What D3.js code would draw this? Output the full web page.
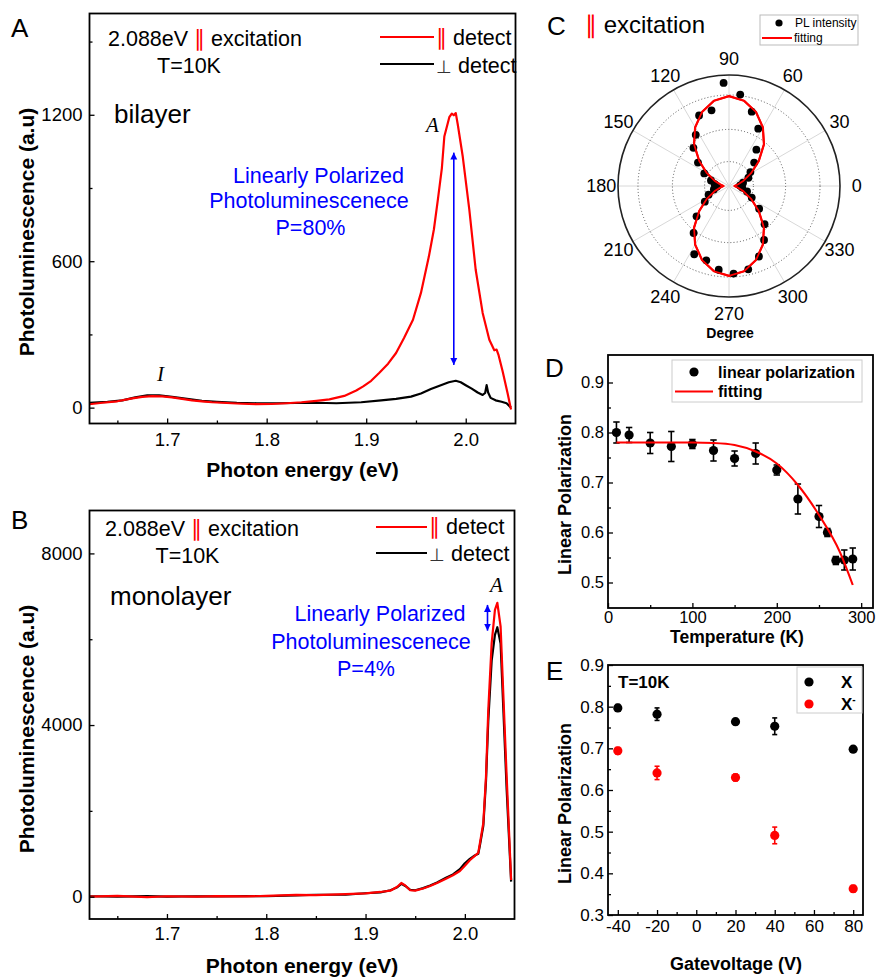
<!DOCTYPE html>
<html>
<head>
<meta charset="utf-8">
<script src="https://cdn.jsdelivr.net/npm/d3@7"></script>
<style>
  body { margin: 0; background: #fff; }
  svg { display: block; }
</style>
</head>
<body>
<svg id="fig" width="879" height="977"></svg>
<script>
// ---------- Bilayer PL spectra (panel A) ----------
const bilayerParEnergy = [1.622,1.635,1.650,1.665,1.675,1.685,1.695,1.705,1.715,1.725,1.735,1.745,1.760,1.775,1.790,1.805,1.820,1.835,1.850,1.863,1.878,1.890,1.897,1.905,1.913,1.922,1.930,1.938,1.947,1.955,1.963,1.968,1.972,1.976,1.9785,1.9835,1.986,1.988,1.990,1.992,1.997,2.0036,2.010,2.017,2.0237,2.0287,2.031,2.033,2.037,2.042,2.0455];
const bilayerParPL = [14,20,26,38,44,47,46,42,36,30,26,22,19,16,14,15,18,22,28,34,48,70,87,110,142,180,224,285,360,470,620,730,852,980,1111,1190,1205,1198,1207,1160,1029,811,565,388,278,235,238,215,150,60,-8];
const bilayerPerpEnergy = [1.622,1.640,1.655,1.668,1.680,1.692,1.705,1.720,1.735,1.750,1.770,1.790,1.810,1.830,1.850,1.870,1.895,1.915,1.930,1.945,1.955,1.965,1.975,1.983,1.990,1.995,2.000,2.006,2.012,2.017,2.0195,2.021,2.0225,2.025,2.030,2.036,2.041,2.0455];
const bilayerPerpPL = [20,24,30,42,50,50,44,36,28,24,20,18,18,19,20,18,22,30,36,45,58,76,92,104,110,104,92,78,62,52,60,92,62,40,30,24,18,0];

// ---------- Monolayer PL spectra (panel B) ----------
const monoEnergy = [1.622,1.650,1.680,1.700,1.730,1.750,1.780,1.800,1.830,1.850,1.880,1.900,1.915,1.925,1.932,1.936,1.940,1.945,1.950,1.958,1.965,1.972,1.981,1.988,1.995,2.000,2.005,2.010,2.0135,2.0152,2.0186,2.0213,2.0236,2.027,2.0303,2.0327,2.036,2.0387,2.0421,2.0466];
const monoParPL = [0,20,-10,10,0,15,5,20,40,35,60,75,110,140,230,320,260,150,140,190,250,320,420,500,600,720,850,950,1020,1250,1716,2802,4355,5909,6684,6850,6300,4744,2802,390];
const monoPerpPL = [10,0,15,0,10,5,15,10,30,45,50,80,100,150,220,300,250,160,150,200,260,330,440,520,640,780,880,960,1000,1200,1650,2700,4100,5500,6100,6280,5900,4400,2500,350];

// ---------- Polar PL intensity (panel C) ----------
const polarAngle = [3,13,23,33,43,53,63,73,83,93,103,113,123,133,143,153,163,173,183,193,203,213,223,233,243,253,263,273,283,293,303,313,323,333,343,353];
const polarPL = [0.10,0.13,0.19,0.23,0.31,0.41,0.58,0.70,0.83,0.93,0.70,0.69,0.55,0.47,0.35,0.25,0.17,0.13,0.11,0.14,0.20,0.26,0.40,0.53,0.69,0.70,0.76,0.79,0.77,0.69,0.58,0.47,0.34,0.23,0.17,0.12];
const fitAngle = [0,10,20,30,40,50,60,70,80,90,100,110,120,130,140,150,160,170,180,190,200,210,220,230,240,250,260,270,280,290,300,310,320,330,340,350];
const fitPL = [0.05,0.08,0.14,0.23,0.35,0.49,0.61,0.71,0.78,0.81,0.78,0.71,0.61,0.49,0.35,0.23,0.14,0.08,0.05,0.08,0.14,0.23,0.35,0.49,0.61,0.71,0.78,0.81,0.78,0.71,0.61,0.49,0.35,0.23,0.14,0.08];
const polarRings = [0.22, 0.51, 0.82];
const polarLabels = [0,30,60,90,120,150,180,210,240,270,300,330];

// ---------- Temperature dependence (panel D) ----------
const tempK = [10,25,50,75,100,125,150,175,200,225,250,260,270,280,290];
const tempLP = [0.800,0.795,0.779,0.772,0.777,0.764,0.748,0.758,0.725,0.667,0.632,0.600,0.544,0.545,0.547];
const tempErr = [0.021,0.015,0.021,0.030,0.009,0.021,0.015,0.021,0.010,0.030,0.022,0.008,0.008,0.020,0.022];
const fitK = [10,50,100,125,150,175,200,225,250,275,290];
const fitLP = [0.780,0.780,0.780,0.779,0.775,0.762,0.738,0.695,0.635,0.560,0.495];

// ---------- Gate voltage dependence (panel E) ----------
const gateV = [-40,-20,20,40,80];
const lpX = [0.797,0.782,0.764,0.753,0.698];
const errX = [0.008,0.015,0.007,0.020,0.006];
const lpXminus = [0.694,0.641,0.630,0.491,0.363];
const errXminus = [0.008,0.016,0.008,0.020,0.008];

// ---------- Tick values ----------
const energyTicks = [1.7,1.8,1.9,2.0];
const energyMinor = [1.65,1.75,1.85,1.95];
const bilayerTicks = [0,600,1200];
const bilayerMinor = [300,900,1500];
const monoTicks = [0,4000,8000];
const monoMinor = [2000,6000];
const tempTicks = [0,100,200,300];
const tempMinor = [50,150,250];
const lpTicksD = [0.5,0.6,0.7,0.8,0.9];
const lpMinorD = [0.55,0.65,0.75,0.85];
const gateTicks = [-40,-20,0,20,40,60,80];
const gateMinor = [-30,-10,10,30,50,70];
const lpTicksE = [0.3,0.4,0.5,0.6,0.7,0.8,0.9];
const lpMinorE = [0.35,0.45,0.55,0.65,0.75,0.85];

const SANS = '"Liberation Sans", Arial, Helvetica, sans-serif';
const SERIF = '"Liberation Serif", "Times New Roman", serif';
const RED = "#ff0000", BLUE = "#0000ff";
const plainInt = d => String(d);   // keeps an ASCII hyphen for negative ticks

const svg = d3.select("#fig");
const defs = svg.append("defs");
defs.append("marker")
  .attr("id", "blueHead").attr("viewBox", "0 0 10 10")
  .attr("refX", 10).attr("refY", 5)
  .attr("markerWidth", 7).attr("markerHeight", 8)
  .attr("markerUnits", "userSpaceOnUse")
  .attr("orient", "auto-start-reverse")
  .append("path").attr("d", "M0,0 L10,5 L0,10 z").attr("fill", BLUE);

function text(x, y, str, size, opts = {}) {
  return svg.append("text")
    .attr("x", x).attr("y", y)
    .attr("font-family", opts.family || SANS)
    .attr("font-size", size)
    .attr("font-weight", opts.weight || "normal")
    .attr("font-style", opts.style || "normal")
    .attr("text-anchor", opts.anchor || "start")
    .attr("fill", opts.fill || "#000")
    .text(str);
}

function rotText(x, y, str, size) {
  return svg.append("text")
    .attr("transform", `translate(${x},${y}) rotate(-90)`)
    .attr("font-family", SANS).attr("font-size", size).attr("font-weight", "bold")
    .attr("text-anchor", "middle").attr("fill", "#000").text(str);
}

// Framed axes with inward major/minor ticks
function axes(x, y, c) {
  const g = svg.append("g");
  const [x0, x1] = x.range();
  const [y1, y0] = y.range();
  const bot = g.append("g").attr("transform", `translate(0,${y1})`);
  bot.call(d3.axisBottom(x).tickValues(c.xTicks).tickFormat(c.xFmt)
    .tickSizeInner(-c.major).tickSizeOuter(0).tickPadding(c.xPad));
  bot.append("g").call(d3.axisBottom(x).tickValues(c.xMinor).tickFormat("")
    .tickSizeInner(-c.minor).tickSizeOuter(0));
  const left = g.append("g").attr("transform", `translate(${x0},0)`);
  left.call(d3.axisLeft(y).tickValues(c.yTicks).tickFormat(c.yFmt)
    .tickSizeInner(-c.major).tickSizeOuter(0).tickPadding(c.yPad));
  left.append("g").call(d3.axisLeft(y).tickValues(c.yMinor).tickFormat("")
    .tickSizeInner(-c.minor).tickSizeOuter(0));
  g.selectAll(".domain").remove();
  g.selectAll(".tick line").attr("stroke", "#000").attr("stroke-width", 1.3);
  g.selectAll(".tick text").attr("font-family", SANS).attr("font-size", c.fs).attr("fill", "#000");
  g.append("rect").attr("x", x0).attr("y", y0)
    .attr("width", x1 - x0).attr("height", y1 - y0)
    .attr("fill", "none").attr("stroke", "#000").attr("stroke-width", 1.8);
}

function clipFor(id, x, y) {
  defs.append("clipPath").attr("id", id).append("rect")
    .attr("x", x.range()[0]).attr("y", y.range()[1])
    .attr("width", x.range()[1] - x.range()[0])
    .attr("height", y.range()[0] - y.range()[1]);
  return `url(#${id})`;
}

function spectrum(x, y, xs, ys, color, clip) {
  const pts = xs.map((e, i) => [e, ys[i]]);
  svg.append("path")
    .attr("d", d3.line().x(d => x(d[0])).y(d => y(d[1]))(pts))
    .attr("fill", "none").attr("stroke", color).attr("stroke-width", 2.2)
    .attr("stroke-linejoin", "round").attr("clip-path", clip);
}

function legendPair(lx0, lx1, yRed, yBlack, tx, baseRed, baseBlack) {
  svg.append("line").attr("x1", lx0).attr("x2", lx1).attr("y1", yRed).attr("y2", yRed)
    .attr("stroke", RED).attr("stroke-width", 2);
  svg.append("line").attr("x1", lx0).attr("x2", lx1).attr("y1", yBlack).attr("y2", yBlack)
    .attr("stroke", "#000").attr("stroke-width", 2);
  const t1 = text(tx, baseRed, "", 21.5);
  t1.append("tspan").attr("fill", RED).text("\u2225");
  t1.append("tspan").text(" detect");
  const t2 = text(tx, baseBlack, "", 21.5);
  t2.append("tspan").attr("font-size", 18).attr("fill", "#333").text("\u22A5");
  t2.append("tspan").text(" detect");
}

function excitationLine(x, y) {
  const t = text(x, y, "", 21.5);
  t.append("tspan").text("2.088eV ");
  t.append("tspan").attr("fill", RED).text("\u2225");
  t.append("tspan").text(" excitation");
}

// ================= Panel A: bilayer =================
{
  const x = d3.scaleLinear().domain([1.622, 2.05]).range([89.5, 515.5]);
  const y = d3.scaleLinear().domain([-65, 1615]).range([423.5, 13.5]);
  const clip = clipFor("clipA", x, y);
  spectrum(x, y, bilayerPerpEnergy, bilayerPerpPL, "#000", clip);
  spectrum(x, y, bilayerParEnergy, bilayerParPL, RED, clip);
  axes(x, y, { xTicks: energyTicks, xMinor: energyMinor, xFmt: d3.format(".1f"),
    yTicks: bilayerTicks, yMinor: bilayerMinor, yFmt: d3.format("d"),
    major: 5, minor: 3, xPad: 9, yPad: 7, fs: 18.5 });
  text(302.5, 477, "Photon energy (eV)", 21, { weight: "bold", anchor: "middle" });
  rotText(33.5, 232, "Photoluminescence (a.u)", 21);
  text(11, 37, "A", 26);
  excitationLine(108, 45.5);
  text(157, 72.5, "T=10K", 21.5);
  legendPair(380, 434, 37, 64, 436, 44.5, 72.5);
  text(114, 123, "bilayer", 26);
  text(426, 132, "A", 21, { family: SERIF, style: "italic" });
  text(157, 381, "I", 21, { family: SERIF, style: "italic" });
  text(318.5, 182.5, "Linearly Polarized", 21.5, { anchor: "middle", fill: BLUE });
  text(309, 208, "Photoluminescenece", 21.5, { anchor: "middle", fill: BLUE });
  text(310.5, 235, "P=80%", 21.5, { anchor: "middle", fill: BLUE });
  // arrow spanning the perpendicular and parallel peak heights
  const ax = x(1.988);
  svg.append("line").attr("x1", ax).attr("x2", ax)
    .attr("y1", y(1045)).attr("y2", y(175))
    .attr("stroke", BLUE).attr("stroke-width", 1.6)
    .attr("marker-start", "url(#blueHead)").attr("marker-end", "url(#blueHead)");
}

// ================= Panel B: monolayer =================
{
  const x = d3.scaleLinear().domain([1.622, 2.05]).range([89.5, 514.5]);
  const y = d3.scaleLinear().domain([-520, 9000]).range([919, 510.5]);
  const clip = clipFor("clipB", x, y);
  spectrum(x, y, monoEnergy, monoPerpPL, "#000", clip);
  spectrum(x, y, monoEnergy, monoParPL, RED, clip);
  axes(x, y, { xTicks: energyTicks, xMinor: energyMinor, xFmt: d3.format(".1f"),
    yTicks: monoTicks, yMinor: monoMinor, yFmt: d3.format("d"),
    major: 5, minor: 3, xPad: 8, yPad: 7, fs: 18.5 });
  text(302, 973, "Photon energy (eV)", 21, { weight: "bold", anchor: "middle" });
  rotText(33.5, 729, "Photoluminescence (a.u)", 21);
  text(11, 529, "B", 26);
  excitationLine(105, 536);
  text(155.5, 563, "T=10K", 21.5);
  legendPair(376, 427, 527, 553, 429, 534, 561);
  text(110, 605, "monolayer", 26);
  text(490, 592, "A", 21, { family: SERIF, style: "italic" });
  text(380, 621, "Linearly Polarized", 21.5, { anchor: "middle", fill: BLUE });
  text(371, 649, "Photoluminescenece", 21.5, { anchor: "middle", fill: BLUE });
  text(366, 676, "P=4%", 21.5, { anchor: "middle", fill: BLUE });
  const ax = 487.5;
  svg.append("line").attr("x1", ax).attr("x2", ax)
    .attr("y1", y(6800)).attr("y2", y(6200))
    .attr("stroke", BLUE).attr("stroke-width", 1.6)
    .attr("marker-start", "url(#blueHead)").attr("marker-end", "url(#blueHead)");
}

// ================= Panel C: polar plot =================
{
  const cx = 729, cy = 186, R = 111;
  const r = d3.scaleLinear().domain([0, 1]).range([0, R]);
  const px = (deg, v) => cx + r(v) * Math.cos(deg * Math.PI / 180);
  const py = (deg, v) => cy - r(v) * Math.sin(deg * Math.PI / 180);
  const g = svg.append("g");
  polarLabels.forEach(a => {
    g.append("line").attr("x1", cx).attr("y1", cy).attr("x2", px(a, 1)).attr("y2", py(a, 1))
      .attr("stroke", "#d8d8d8").attr("stroke-width", 1);
  });
  polarRings.forEach(v => {
    g.append("circle").attr("cx", cx).attr("cy", cy).attr("r", r(v))
      .attr("fill", "none").attr("stroke", "#444").attr("stroke-width", 0.9)
      .attr("stroke-dasharray", "1,2.2");
  });
  g.append("circle").attr("cx", cx).attr("cy", cy).attr("r", r(1))
    .attr("fill", "none").attr("stroke", "#222").attr("stroke-width", 1.6);
  polarLabels.forEach(a => {
    g.append("text").attr("x", px(a, 1.15)).attr("y", py(a, 1.15))
      .attr("dy", "0.35em").attr("text-anchor", "middle")
      .attr("font-family", SANS).attr("font-size", 18).text(a);
  });
  const fitPts = fitAngle.map((a, i) => [a, fitPL[i]]);
  const fitPath = d3.line().x(d => px(d[0], d[1])).y(d => py(d[0], d[1])).curve(d3.curveLinearClosed)(fitPts);
  g.append("path").attr("d", fitPath)
    .attr("fill", "none").attr("stroke", RED).attr("stroke-width", 2.2).attr("stroke-linejoin", "round");
  g.selectAll(".pol").data(polarAngle.map((a, i) => [a, polarPL[i]])).join("circle")
    .attr("cx", d => px(d[0], d[1])).attr("cy", d => py(d[0], d[1])).attr("r", 3.9).attr("fill", "#000");
  // fit drawn again on top so it stays visible through the markers
  g.append("path").attr("d", fitPath)
    .attr("fill", "none").attr("stroke", RED).attr("stroke-width", 1.8).attr("stroke-linejoin", "round");
  text(730, 338, "Degree", 14, { weight: "bold", anchor: "middle" });
  text(547, 35, "C", 26);
  const t = text(585, 33, "", 24);
  t.append("tspan").attr("fill", RED).text("\u2225");
  t.append("tspan").text(" excitation");
  // legend
  svg.append("rect").attr("x", 760).attr("y", 15).attr("width", 98).attr("height", 30)
    .attr("fill", "#fff").attr("stroke", "#bbb").attr("stroke-width", 1);
  svg.append("circle").attr("cx", 779).attr("cy", 23).attr("r", 3.6).attr("fill", "#000");
  text(795, 27, "PL intensity", 12);
  svg.append("line").attr("x1", 762).attr("x2", 792).attr("y1", 38).attr("y2", 38)
    .attr("stroke", RED).attr("stroke-width", 2);
  text(794, 41.5, "fitting", 12);
}

// error-bar scatter helper
function errScatter(x, y, xs, ys, es, color, cap) {
  const g = svg.append("g");
  xs.forEach((v, i) => {
    const xx = x(v), yt = y(ys[i] + es[i]), yb = y(ys[i] - es[i]);
    g.append("line").attr("x1", xx).attr("x2", xx).attr("y1", yt).attr("y2", yb)
      .attr("stroke", color).attr("stroke-width", 1.6);
    [yt, yb].forEach(yy => g.append("line").attr("x1", xx - cap).attr("x2", xx + cap)
      .attr("y1", yy).attr("y2", yy).attr("stroke", color).attr("stroke-width", 1.6));
    g.append("circle").attr("cx", xx).attr("cy", y(ys[i])).attr("r", 4.6).attr("fill", color);
  });
}

// ================= Panel D: temperature =================
{
  const x = d3.scaleLinear().domain([0, 314]).range([608, 873]);
  const y = d3.scaleLinear().domain([0.449, 0.955]).range([608, 355]);
  axes(x, y, { xTicks: tempTicks, xMinor: tempMinor, xFmt: plainInt,
    yTicks: lpTicksD, yMinor: lpMinorD, yFmt: d3.format(".1f"),
    major: 5, minor: 3, xPad: 3, yPad: 4, fs: 16.5 });
  errScatter(x, y, tempK, tempLP, tempErr, "#000", 3.2);
  svg.append("path")
    .attr("d", d3.line().x(d => x(d[0])).y(d => y(d[1])).curve(d3.curveMonotoneX)(fitK.map((k, i) => [k, fitLP[i]])))
    .attr("fill", "none").attr("stroke", RED).attr("stroke-width", 2);
  text(737, 643, "Temperature (K)", 17.5, { weight: "bold", anchor: "middle" });
  rotText(571, 494.5, "Linear Polarization", 18);
  text(545, 377, "D", 26);
  svg.append("rect").attr("x", 672).attr("y", 360).attr("width", 190).attr("height", 42)
    .attr("fill", "#fff").attr("stroke", "#ccc").attr("stroke-width", 1);
  svg.append("circle").attr("cx", 694).attr("cy", 372).attr("r", 4.6).attr("fill", "#000");
  text(718, 377.5, "linear polarization", 16, { weight: "bold" });
  svg.append("line").attr("x1", 675).attr("x2", 713).attr("y1", 391.5).attr("y2", 391.5)
    .attr("stroke", RED).attr("stroke-width", 2);
  text(718, 397, "fitting", 16, { weight: "bold" });
}

// ================= Panel E: gate voltage =================
{
  const x = d3.scaleLinear().domain([-45, 85]).range([608, 863]);
  const y = d3.scaleLinear().domain([0.3, 0.9]).range([915, 665]);
  axes(x, y, { xTicks: gateTicks, xMinor: gateMinor, xFmt: plainInt,
    yTicks: lpTicksE, yMinor: lpMinorE, yFmt: d3.format(".1f"),
    major: 5, minor: 3, xPad: 5, yPad: 4, fs: 17 });
  errScatter(x, y, gateV, lpX, errX, "#000", 2.5);
  errScatter(x, y, gateV, lpXminus, errXminus, RED, 2.5);
  text(736, 970, "Gatevoltage (V)", 18, { weight: "bold", anchor: "middle" });
  rotText(571, 803.5, "Linear Polarization", 18);
  text(546, 680, "E", 26);
  text(618, 688, "T=10K", 17, { weight: "bold" });
  svg.append("rect").attr("x", 797).attr("y", 667).attr("width", 65).attr("height", 46)
    .attr("fill", "#fff").attr("stroke", "#ccc").attr("stroke-width", 1);
  svg.append("circle").attr("cx", 809).attr("cy", 682).attr("r", 4.6).attr("fill", "#000");
  text(841, 688, "X", 17, { weight: "bold" });
  svg.append("circle").attr("cx", 809).attr("cy", 704).attr("r", 4.6).attr("fill", RED);
  const xm = text(841, 710, "X", 17, { weight: "bold" });
  xm.append("tspan").attr("dy", -7).attr("font-size", 10).text("-");
}
</script>
</body>
</html>
